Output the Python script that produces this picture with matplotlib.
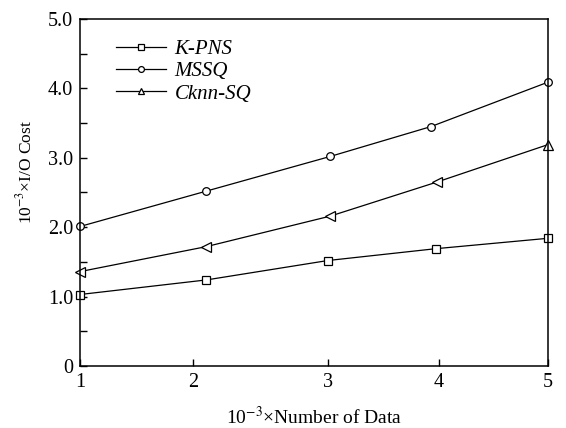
import numpy as np
import matplotlib
matplotlib.use('Agg')
import matplotlib.pyplot as plt

plt.rcParams['font.family'] = ['Liberation Serif', 'DejaVu Serif']
plt.rcParams['mathtext.fontset'] = 'stix'

# values (x in thousands of data items)
x_kpns = [1.0, 2.08, 3.12, 4.04, 5.0]
y_kpns = [1.03, 1.24, 1.52, 1.69, 1.84]
x_mssq = [1.0, 2.08, 3.14, 4.0, 5.0]
y_mssq = [2.01, 2.52, 3.02, 3.45, 4.09]
x_cknn = [1.0, 2.08, 3.14, 4.05, 5.0]
y_cknn = [1.36, 1.72, 2.16, 2.65, 3.19]

xtick_pos = [1.0, 1.97, 3.12, 4.07, 5.0]
xtick_labels = ['1', '2', '3', '4', '5']
ytick_pos = [0, 1, 2, 3, 4, 5]
ytick_labels = ['0', '1.0', '2.0', '3.0', '4.0', '5.0']

fig = plt.figure(figsize=(5.66, 4.28), dpi=100)
ax = fig.add_axes([0.1413, 0.1449, 0.8269, 0.8107])

style = dict(color='black', lw=0.9, mfc='white', mec='black', mew=0.9, clip_on=False)
ax.plot(x_kpns, y_kpns, marker='s', ms=5.5, **style)
ax.plot(x_mssq, y_mssq, marker='o', ms=5.5, **style)
# the last triangle points up, the others point left
ax.plot(x_cknn, y_cknn, marker='^', ms=6.5, markevery=[4], **style)
ax.plot(x_cknn, y_cknn, marker='<', ms=6.5, markevery=[0, 1, 2, 3], ls='none',
        color='black', mfc='white', mec='black', mew=0.9, clip_on=False)

# legend handles have smaller markers than the data
h1, = ax.plot([], [], marker='s', ms=3.8, color='black', lw=0.9, mfc='white', mew=0.9)
h2, = ax.plot([], [], marker='o', ms=4.2, color='black', lw=0.9, mfc='white', mew=0.9)
h3, = ax.plot([], [], marker='^', ms=4.8, color='black', lw=0.9, mfc='white', mew=0.9)
ax.legend([h1, h2, h3], ['K-PNS', 'MSSQ', 'Cknn-SQ'], loc='upper left',
          bbox_to_anchor=(0.077, 0.94), frameon=False, borderpad=0, borderaxespad=0,
          prop={'family': 'Liberation Serif', 'style': 'italic', 'size': 15},
          handlelength=2.4, labelspacing=0.12, handletextpad=0.4)

ax.set_xlim(1, 5)
ax.set_ylim(0, 5)
ax.set_xticks(xtick_pos)
ax.set_xticklabels(xtick_labels)
ax.set_yticks(ytick_pos)
ax.set_yticklabels(ytick_labels)
ax.set_yticks(np.arange(0.5, 5, 1.0), minor=True)
ax.tick_params(which='both', direction='in', labelsize=14.5, top=False, right=False)
ax.tick_params(which='major', length=5, width=1.0)
ax.tick_params(which='minor', length=5, width=1.0)
ax.tick_params(axis='x', pad=5)
ax.tick_params(axis='y', pad=5)
for s in ax.spines.values():
    s.set_linewidth(1.1)

ax.set_xlabel(r'10$^{-3}$×Number of Data', fontsize=14, labelpad=10)
ax.set_ylabel(r'10$^{-3}$×I/O Cost', fontsize=12.5)
ax.yaxis.set_label_coords(-0.095, 0.56)

fig.savefig('out.png', dpi=100)
